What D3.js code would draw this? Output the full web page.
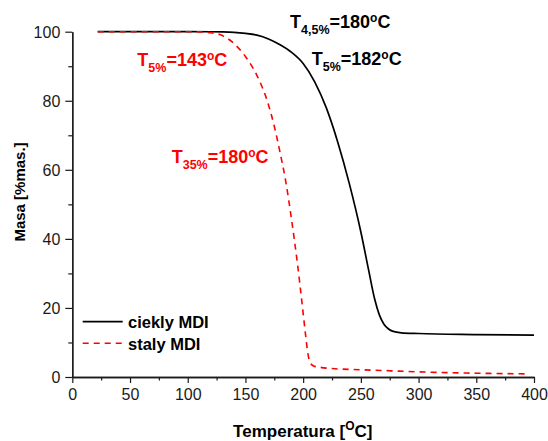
<!DOCTYPE html>
<html>
<head>
<meta charset="utf-8">
<script src="https://cdn.jsdelivr.net/npm/d3@7"></script>
<style>
  html, body { margin: 0; padding: 0; background: #fff; }
  svg { display: block; font-family: "Liberation Sans", Arial, sans-serif; }
</style>
</head>
<body>
<svg id="chart" width="548" height="441"></svg>
<script>
// ---- data ----
const seriesNames = ["ciekly MDI", "staly MDI"];
const cieklyTemp = [22, 60, 100, 120, 130, 140, 150, 160, 170, 180, 190, 200, 210, 220, 230, 240, 250, 257, 262, 266, 270, 274, 278, 285, 300, 350, 400];
const cieklyMass = [100, 100, 100, 99.98, 99.93, 99.8, 99.5, 99.0, 97.9, 96.2, 94.0, 90.8, 85.5, 78.0, 68.0, 56.0, 42.0, 30.5, 22.5, 18.0, 15.3, 13.9, 13.2, 12.8, 12.6, 12.3, 12.1];
const stalyTemp = [22, 100, 110, 120, 130, 140, 150, 160, 170, 175, 180, 185, 190, 195, 199, 202, 204, 206, 209, 215, 225, 250, 275, 300, 350, 395];
const stalyMass = [100, 100, 99.95, 99.7, 98.9, 96.6, 92.8, 87.3, 78.8, 72.6, 65.0, 56.5, 45.5, 33.0, 21.5, 12.5, 7.0, 4.2, 3.2, 2.8, 2.45, 2.1, 1.8, 1.5, 1.1, 0.9];
const xTicks = [0, 50, 100, 150, 200, 250, 300, 350, 400];
const xMinorTicks = [25, 75, 125, 175, 225, 275, 325, 375];
const yTicks = [0, 20, 40, 60, 80, 100];
const yMinorTicks = [10, 30, 50, 70, 90];

const svg = d3.select("#chart");
const x = d3.scaleLinear().domain([0, 400]).range([72.3, 534]);
const y = d3.scaleLinear().domain([0, 100]).range([377, 31.7]);

const axisColor = "#1a1a1a";

// ---- axes ----
const gx = svg.append("g").attr("transform", `translate(0,${y(0)})`);
gx.call(d3.axisBottom(x).tickValues(xTicks).tickSize(6).tickPadding(6).tickSizeOuter(0));
const gxm = svg.append("g").attr("transform", `translate(0,${y(0)})`);
gxm.call(d3.axisBottom(x).tickValues(xMinorTicks).tickSize(3.5).tickFormat("").tickSizeOuter(0));

const gy = svg.append("g").attr("transform", `translate(${x(0)},0)`);
gy.call(d3.axisLeft(y).tickValues(yTicks).tickSize(7).tickPadding(5).tickSizeOuter(0));
const gym = svg.append("g").attr("transform", `translate(${x(0)},0)`);
gym.call(d3.axisLeft(y).tickValues(yMinorTicks).tickSize(4).tickFormat("").tickSizeOuter(0));

svg.selectAll(".domain").attr("stroke", axisColor).attr("stroke-width", 1.3);
svg.selectAll(".tick line").attr("stroke", axisColor).attr("stroke-width", 1.2);
svg.selectAll(".tick text")
  .attr("font-family", "'Liberation Sans', Arial, sans-serif")
  .attr("font-size", 16).attr("fill", axisColor);
gy.selectAll(".tick text").attr("dy", "0.35em");

// ---- lines ----
const line = d3.line().x(d => x(d[0])).y(d => y(d[1])).curve(d3.curveMonotoneX);
const ciekly = cieklyTemp.map((t, i) => [t, cieklyMass[i]]);
const staly = stalyTemp.map((t, i) => [t, stalyMass[i]]);

svg.append("path").datum(ciekly).attr("d", line)
  .attr("fill", "none").attr("stroke", "#000").attr("stroke-width", 1.7);
svg.append("path").datum(staly).attr("d", line)
  .attr("fill", "none").attr("stroke", "#ff0000").attr("stroke-width", 1.6)
  .attr("stroke-dasharray", "6,5");

// ---- axis titles ----
const xt = svg.append("text").attr("x", 302.8).attr("y", 436.7)
  .attr("text-anchor", "middle").attr("font-weight", "bold").attr("font-size", 17).attr("fill", "#000");
xt.append("tspan").text("Temperatura [");
xt.append("tspan").attr("font-size", 12).attr("dy", -7).text("O");
xt.append("tspan").attr("dy", 7).text("C]");

svg.append("text").attr("transform", "translate(25,192) rotate(-90)")
  .attr("text-anchor", "middle").attr("font-weight", "bold").attr("font-size", 15).attr("fill", "#000")
  .text("Masa [%mas.]");

// ---- legend ----
const legendItems = [
  { name: seriesNames[0], color: "#000", dash: null, width: 1.7, ly: 321.7 },
  { name: seriesNames[1], color: "#ff0000", dash: "6,5", width: 1.6, ly: 343.3 }
];
legendItems.forEach(it => {
  svg.append("line").attr("x1", 82.7).attr("x2", 122.7).attr("y1", it.ly).attr("y2", it.ly)
    .attr("stroke", it.color).attr("stroke-width", it.width)
    .attr("stroke-dasharray", it.dash);
  svg.append("text").attr("x", 128).attr("y", it.ly + 6.5)
    .attr("font-weight", "bold").attr("font-size", 16.5).attr("fill", "#000").text(it.name);
});

// ---- annotations ----
const annotations = [
  { sub: "5%", val: "=143", color: "#ff0000", ax: 137.3, ay: 66 },
  { sub: "35%", val: "=180", color: "#ff0000", ax: 171.7, ay: 163.3 },
  { sub: "4,5%", val: "=180", color: "#000", ax: 290, ay: 28.3 },
  { sub: "5%", val: "=182", color: "#000", ax: 311.7, ay: 65 }
];
annotations.forEach(a => {
  const t = svg.append("text").attr("x", a.ax).attr("y", a.ay)
    .attr("font-weight", "bold").attr("font-size", 18).attr("fill", a.color);
  t.append("tspan").text("T");
  t.append("tspan").attr("font-size", 12.5).attr("dy", 5.7).text(a.sub);
  t.append("tspan").attr("dy", -5.7).text(a.val);
  t.append("tspan").attr("font-size", 12).attr("dy", -6.5).text("o");
  t.append("tspan").attr("dy", 6.5).text("C");
});
</script>
</body>
</html>
